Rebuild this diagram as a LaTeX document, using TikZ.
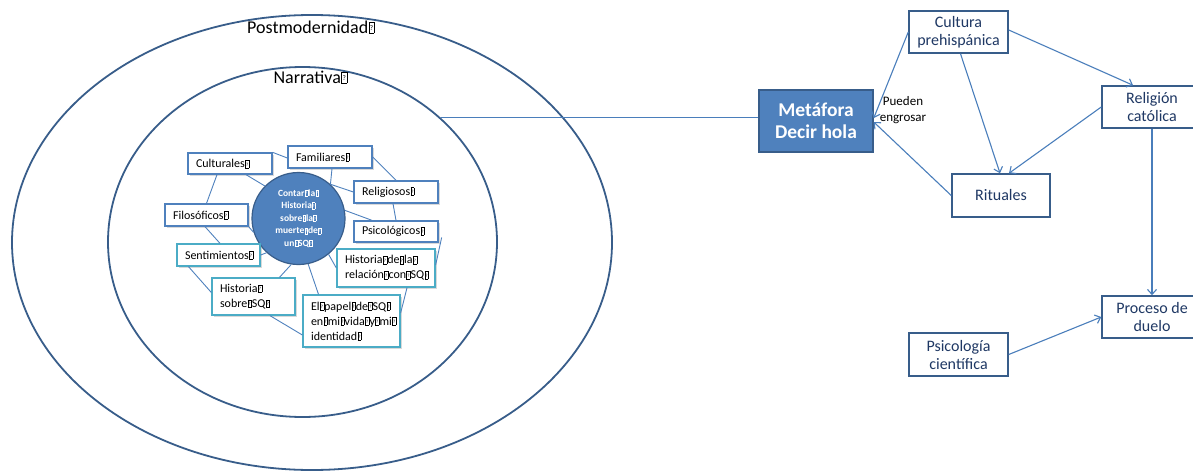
\documentclass[tikz,border=0pt]{standalone}
\usepackage{fontspec}
\setmainfont{Carlito}
\usetikzlibrary{shapes.geometric,arrows.meta,shadows}

\definecolor{ringblue}{HTML}{385D8A}
\definecolor{accent}{HTML}{4F81BD}
\definecolor{linkblue}{HTML}{4A7EBB}
\definecolor{tealbox}{HTML}{4BACC6}
\definecolor{navytext}{HTML}{1F3864}

% placeholder glyph box printed in place of spaces
\newcommand{\tofu}{\kern0.03em\raisebox{0pt}{\setlength{\fboxsep}{0pt}\setlength{\fboxrule}{0.3pt}\fbox{\makebox[0.27em]{\rule{0pt}{0.62em}\raisebox{0.12em}{\scalebox{0.4}{?}}}}}\kern0.03em}

\tikzset{
  ring/.style={ellipse, draw=ringblue, line width=1.8pt, inner sep=0pt},
  ringlabel/.style={font=\fontsize{18}{20}\selectfont, inner sep=0pt},
  topic/.style={draw=accent, line width=1.3pt, fill=white,
    drop shadow={shadow xshift=1.6pt, shadow yshift=-1.6pt, opacity=0.3},
    font=\fontsize{12}{15}\selectfont, align=left, inner xsep=8pt, inner ysep=0pt},
  topicb/.style={topic, draw=tealbox},
  link/.style={accent, line width=0.9pt},
  flowbox/.style={draw=ringblue, line width=1.5pt, fill=white, text=navytext,
    font=\fontsize{16}{18}\selectfont, align=center, inner sep=0pt},
  arr/.style={linkblue, line width=1.1pt, -{Straight Barb[length=5pt,width=9pt]}},
}

\begin{document}
\begin{tikzpicture}[x=1pt, y=-1pt]
\useasboundingbox (0,0) rectangle (1193,471);

% nested context rings
\node[ring, minimum width=600pt, minimum height=455pt] (post) at (312,242.5) {};
\node[ring, minimum width=389pt, minimum height=350pt] (narr) at (302.5,242) {};
\node[ringlabel] (tpost) at (311,27) {Postmodernidad\tofu};
\node[ringlabel] (tnarr) at (310.5,77) {Narrativa\tofu};

% central theme
\node[ellipse, fill=accent, draw=ringblue, line width=1.2pt, minimum width=93pt,
  minimum height=92pt, inner sep=0pt, text=white, align=center,
  font=\bfseries\fontsize{9.5}{12.6}\selectfont] (ctr) at (298.5,218.5)
  {Contar\tofu la\tofu\\Historia\tofu\\sobre\tofu la\tofu\\muerte\tofu de\tofu\\un\tofu SQ\tofu};

% surrounding topics
\node[topic, text width=68pt, minimum height=21pt] (cul) at (230,163.5) {Culturales\tofu};
\node[topic, text width=68pt, minimum height=22pt] (fam) at (330,157) {Familiares\tofu};
\node[topic, text width=68pt, minimum height=22pt] (rlg) at (396,192) {Religiosos\tofu};
\node[topic, text width=68pt, minimum height=21pt] (psi) at (396,231.5) {Psicológicos\tofu};
\node[topic, text width=67pt, minimum height=22pt] (fil) at (206.5,215) {Filosóficos\tofu};
\node[topicb, text width=67pt, minimum height=22pt] (sen) at (218.5,255) {Sentimientos\tofu};
\node[topicb, text width=82pt, minimum height=38pt] (hrel) at (386,268)
  {Historia\tofu de\tofu la\tofu\\relación\tofu con\tofu SQ\tofu};
\node[topicb, text width=67pt, minimum height=37pt] (hsob) at (253.5,296.5)
  {Historia\tofu\\sobre\tofu SQ\tofu};
\node[topicb, text width=81pt, minimum height=52pt] (pap) at (351.5,321)
  {El\tofu papel\tofu de\tofu SQ\tofu\\en\tofu mi\tofu vida\tofu y\tofu mi\tofu\\identidad\tofu};

% topic links
\draw[link] (cul.north east) -- ([yshift=-1pt]fam.west);
\draw[link] ([xshift=-13pt]cul.south) -- (fil.north);
\draw[link] ([xshift=16pt]cul.south) -- (ctr.136);
\draw[link] ([xshift=2pt]fam.south) -- (ctr.47);
\draw[link] (ctr.47) -- (rlg.west);
\draw[link] (fam.east) -- (rlg.north);
\draw[link] ([xshift=-3pt]rlg.south) -- (psi.north);
\draw[link] (ctr.10) -- ([xshift=-24pt]psi.north);
\draw[link] ([xshift=3pt,yshift=-6pt]psi.east) -- ([yshift=3pt]hrel.east);
\draw[link] (fil.south east) -- (ctr.197);
\draw[link] ([xshift=-1.5pt]fil.south) -- ([xshift=1.5pt]sen.north);
\draw[link] (sen.east) -- (ctr.227);
\draw[link] ([xshift=-30pt]sen.south) -- ([yshift=4pt]hsob.west);
\draw[link] (ctr.261) -- ([xshift=26pt]hsob.north);
\draw[link] (ctr.282) -- ([xshift=-33pt]pap.north);
\draw[link] (ctr.310) -- (hrel.west);
\draw[link] ([xshift=16.5pt]hsob.south) -- ([yshift=-14pt]pap.west);
\draw[link] ([xshift=21pt]hrel.south) -- ([yshift=8pt]pap.east);

% right-hand flow
\node[draw=ringblue, line width=1.5pt, fill=accent, text=white, align=center,
  inner sep=0pt, minimum width=114pt, minimum height=62pt,
  font=\bfseries\fontsize{19.5}{22}\selectfont] (meta) at (816,121) {Metáfora\\Decir hola};
\node[flowbox, minimum width=99pt, minimum height=42pt] (cult) at (958.5,32) {Cultura\\prehispánica};
\node[flowbox, minimum width=98pt, minimum height=43pt] (rit) at (1001,195.5) {Rituales};
\node[flowbox, minimum width=100pt, minimum height=42pt] (rel) at (1152,107) {Religión\\católica};
\node[flowbox, minimum width=100pt, minimum height=42pt] (proc) at (1152,317) {Proceso de\\duelo};
\node[flowbox, minimum width=99pt, minimum height=43pt] (psic) at (958.5,354.5) {Psicología\\científica};
\node[align=center, inner sep=0pt, font=\fontsize{13}{15.5}\selectfont] (engr) at (903,110) {Pueden\\engrosar};

\draw[linkblue, line width=1.4pt] (narr.42) -- (narr.42 -| meta.west);
\draw[arr] (cult.west) -- ([yshift=3pt]meta.east);
\draw[arr] (rit.west) -- ([yshift=-1pt]meta.east);
\draw[arr] ([xshift=2pt]cult.south) -- ([xshift=-1pt]rit.north);
\draw[arr] ([yshift=2pt]cult.east) -- ([xshift=-19pt]rel.north);
\draw[arr] (rel.west) -- ([xshift=8pt]rit.north);
\draw[arr] (rel.south) -- (proc.north);
\draw[arr] (psic.east) -- (proc.west);
\end{tikzpicture}
\end{document}
